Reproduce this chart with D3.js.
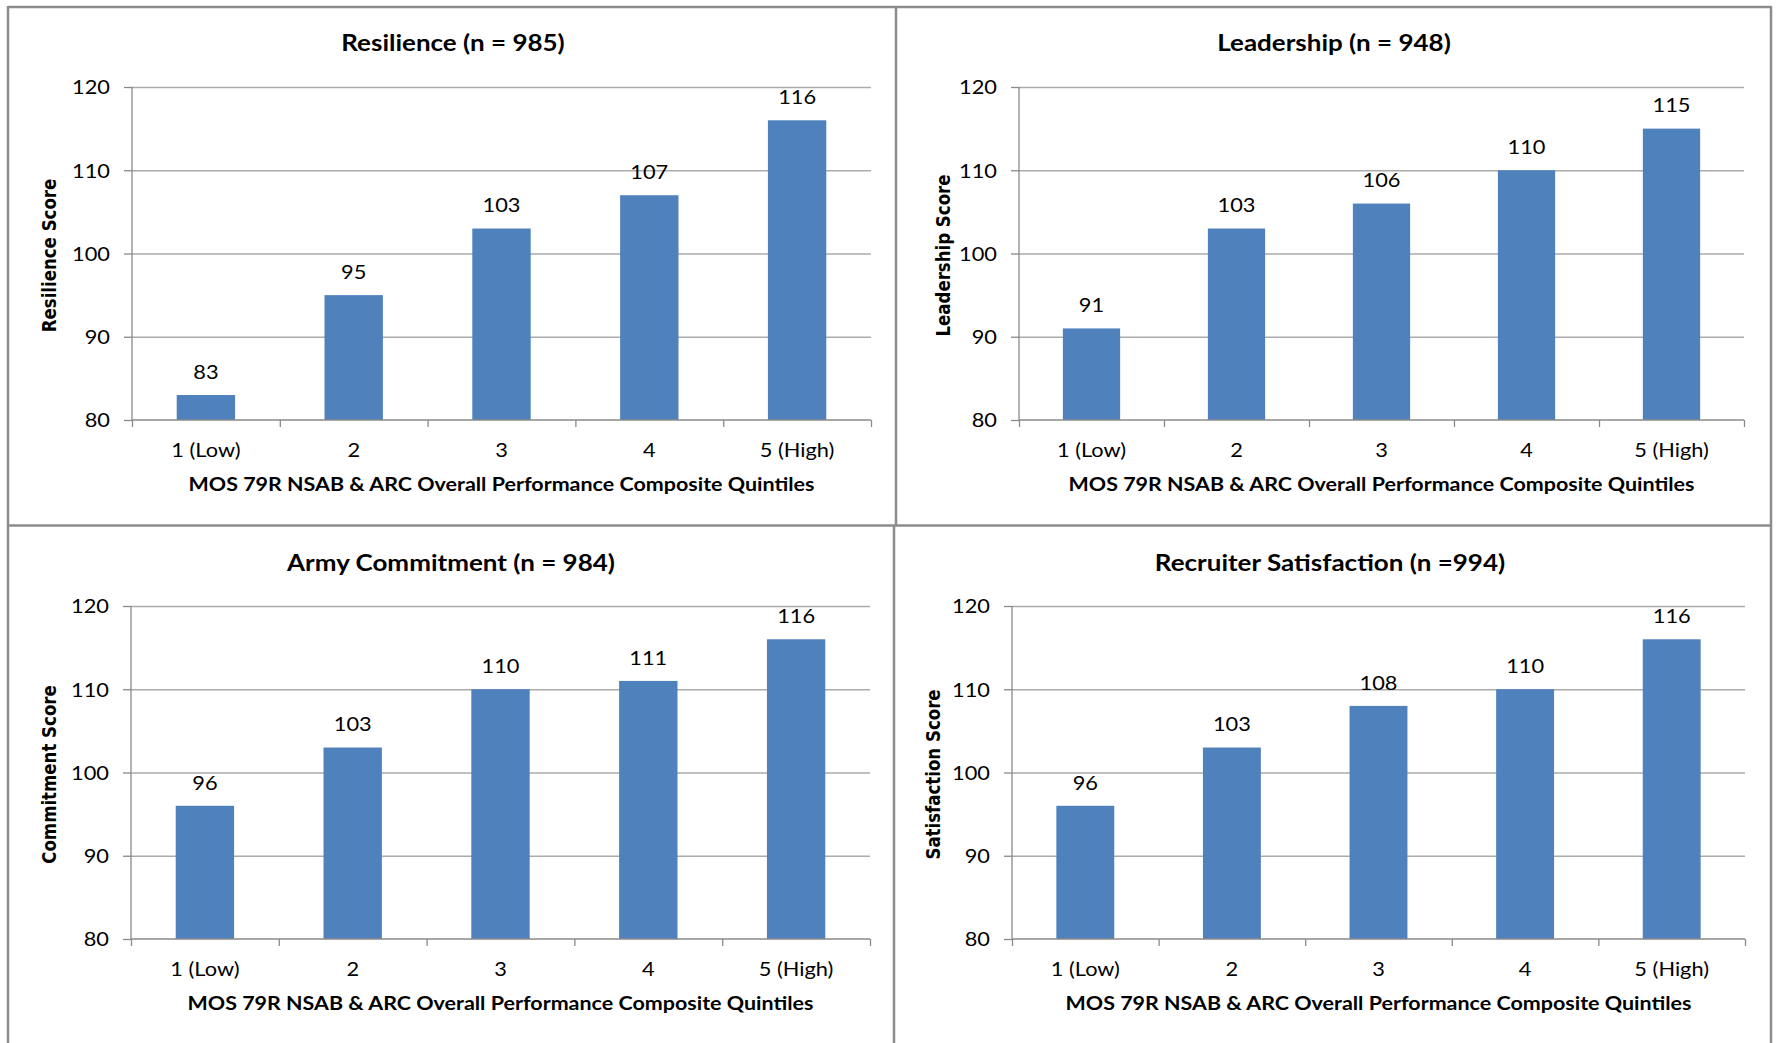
<!DOCTYPE html>
<html>
<head>
<meta charset="utf-8">
<script src="https://cdn.jsdelivr.net/npm/d3@7"></script>
<style>
  html, body { margin: 0; padding: 0; background: #fff; }
  svg { display: block; }
  text { font-family: Lato, "Open Sans", "Liberation Sans", sans-serif; fill: #000; }
</style>
</head>
<body>
<svg id="chart" width="1777" height="1043"></svg>
<script>
// ---------- data ----------
const categories = ["1 (Low)", "2", "3", "4", "5 (High)"];
const resilience   = [83, 95, 103, 107, 116];
const leadership   = [91, 103, 106, 110, 115];
const commitment   = [96, 103, 110, 111, 116];
const satisfaction = [96, 103, 108, 110, 116];
const chartTitles  = ["Resilience (n = 985)", "Leadership (n = 948)", "Army Commitment (n = 984)", "Recruiter Satisfaction (n =994)"];
const yTitles      = ["Resilience Score", "Leadership Score", "Commitment Score", "Satisfaction Score"];
const xTitle       = "MOS 79R NSAB & ARC Overall Performance Composite Quintiles";
const yTickValues  = [80, 90, 100, 110, 120];
const yDomain      = [80, 120];
const seriesList   = [resilience, leadership, commitment, satisfaction];

// ---------- layout ----------
const SX = 1.13; // horizontal text stretch of the original picture
const panels = [
  { x0: 132,  x1: 871,  yTop: 87,  yBot: 420, titleX: 453,  titleY: 43,  yTitleX: 49 },
  { x0: 1019, x1: 1744, yTop: 87,  yBot: 420, titleX: 1334, titleY: 43,  yTitleX: 943 },
  { x0: 131,  x1: 870,  yTop: 606, yBot: 939, titleX: 451,  titleY: 563, yTitleX: 49 },
  { x0: 1012, x1: 1745, yTop: 606, yBot: 939, titleX: 1330, titleY: 563, yTitleX: 933 }
];
const BAR_COLOR = "#4f81bd";
const GRID_COLOR = "#ababab";
const AXIS_COLOR = "#8a8a8a";
const FRAME_COLOR = "#8c8c8c";
const LABEL_SIZE = 19.3;

const svg = d3.select("#chart");

// ---------- frame ----------
const frame = svg.append("g").attr("stroke", FRAME_COLOR).attr("stroke-width", 2.5).attr("fill", "none");
frame.append("line").attr("x1", 8).attr("y1", 7).attr("x2", 1771).attr("y2", 7);
frame.append("line").attr("x1", 8).attr("y1", 6).attr("x2", 8).attr("y2", 1043);
frame.append("line").attr("x1", 1771).attr("y1", 6).attr("x2", 1771).attr("y2", 1043);
frame.append("line").attr("x1", 8).attr("y1", 525.5).attr("x2", 1771).attr("y2", 525.5);
frame.append("line").attr("x1", 896).attr("y1", 7).attr("x2", 896).attr("y2", 525.5);
frame.append("line").attr("x1", 894).attr("y1", 525.5).attr("x2", 894).attr("y2", 1043);

function stretchedText(g, x, y, str, opts) {
  const t = g.append("text")
    .attr("transform", `translate(${x},${y}) scale(${SX},1)` + (opts.rotate ? ` rotate(${opts.rotate})` : ""))
    .attr("text-anchor", opts.anchor || "middle")
    .attr("dy", opts.dy || "0.35em")
    .style("font-size", opts.size + "px")
    .style("font-weight", opts.weight || "normal")
    .text(str);
  if (opts.family) t.style("font-family", opts.family);
  return t;
}

panels.forEach((p, i) => {
  const values = seriesList[i];
  const g = svg.append("g");

  const y = d3.scaleLinear().domain(yDomain).range([p.yBot, p.yTop]);
  const x = d3.scaleBand().domain(categories).range([p.x0, p.x1])
    .paddingInner(0.605).paddingOuter(0.3025);
  const xb = d3.scaleLinear().domain([0, categories.length]).range([p.x0, p.x1]);

  // gridlines
  g.append("g")
    .attr("transform", `translate(${p.x0},0)`)
    .call(d3.axisLeft(y).tickValues(yTickValues.slice(1)).tickSize(-(p.x1 - p.x0)).tickFormat(""))
    .call(s => s.select(".domain").remove())
    .call(s => s.selectAll("line").attr("stroke", GRID_COLOR).attr("stroke-width", 1.3));

  // bars
  g.append("g").selectAll("rect").data(values).join("rect")
    .attr("x", (d, j) => x(categories[j]))
    .attr("width", x.bandwidth())
    .attr("y", d => y(d))
    .attr("height", d => y(yDomain[0]) - y(d))
    .attr("fill", BAR_COLOR);

  // y axis
  const ya = g.append("g")
    .attr("transform", `translate(${p.x0},0)`)
    .call(d3.axisLeft(y).tickValues(yTickValues).tickSize(8).tickFormat(d3.format("d")));
  ya.select(".domain").attr("stroke", AXIS_COLOR).attr("stroke-width", 1.3).attr("d", `M0,${p.yTop}V${p.yBot}`);
  ya.selectAll("line").attr("stroke", AXIS_COLOR).attr("stroke-width", 1.3);
  ya.selectAll("text")
    .attr("x", null).attr("dy", "0.35em")
    .attr("transform", `translate(-22,0) scale(${SX},1)`)
    .attr("text-anchor", "end")
    .style("font-family", 'Lato, "Open Sans", sans-serif')
    .style("font-size", LABEL_SIZE + "px").attr("fill", "#000");

  // x axis (boundary ticks)
  const xa = g.append("g")
    .attr("transform", `translate(0,${p.yBot})`)
    .call(d3.axisBottom(xb).tickValues(d3.range(categories.length + 1)).tickSize(7).tickFormat(""));
  xa.select(".domain").attr("stroke", AXIS_COLOR).attr("stroke-width", 1.3).attr("d", `M${p.x0},0H${p.x1}`);
  xa.selectAll("line").attr("stroke", AXIS_COLOR).attr("stroke-width", 1.3);

  // category labels
  categories.forEach(c => {
    stretchedText(g, x(c) + x.bandwidth() / 2, p.yBot + 30.5, c, { size: LABEL_SIZE });
  });

  // data labels
  values.forEach((v, j) => {
    stretchedText(g, x(categories[j]) + x.bandwidth() / 2, y(v) - 23, String(v), { size: LABEL_SIZE });
  });

  // titles
  stretchedText(g, p.titleX, p.titleY, chartTitles[i], { size: 23, weight: "bold" });
  stretchedText(g, (p.x0 + p.x1) / 2, p.yBot + 64, xTitle, { size: 19, weight: "bold" });
  stretchedText(g, p.yTitleX, (p.yTop + p.yBot) / 2 + 2, yTitles[i],
    { size: 16.6, weight: "bold", rotate: -90, family: '"DejaVu Sans", Verdana, sans-serif' });
});
</script>
</body>
</html>
